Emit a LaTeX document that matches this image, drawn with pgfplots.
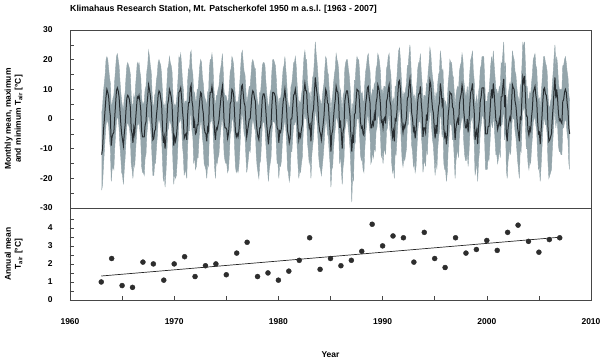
\documentclass[border=0pt]{standalone}
\usepackage{pgfplots}
\pgfplotsset{compat=1.18}
\usepackage{pgfplotstable}
\usepgfplotslibrary{fillbetween}
\usepackage{fontspec}
\setmainfont{Liberation Sans}
\definecolor{band}{RGB}{148,165,171}
\definecolor{meanc}{RGB}{38,44,48}
\definecolor{dotc}{RGB}{45,45,45}
\definecolor{framec}{RGB}{70,70,70}

\pgfplotstableread{
y m hi mu lo
1963 1 2 -12 -24
1963 2 4 -10 -22
1963 3 9 -4 -16
1963 4 12 -0.5 -11
1963 5 15 3.5 -6
1963 6 20 7.5 -2
1963 7 21 10 0
1963 8 20 9 -1
1963 9 17 7.5 -2
1963 10 14 3.5 -7
1963 11 12 1 -10
1963 12 4 -9 -21
1964 1 5 -6 -17
1964 2 7 -5 -16
1964 3 8 -4.5 -17
1964 4 13 0.5 -10
1964 5 17 5 -5
1964 6 21 9.5 -1
1964 7 22 10.5 1
1964 8 20 9.5 0
1964 9 18 7.5 -3
1964 10 13 3 -9
1964 11 9 -1.5 -13
1964 12 6 -5 -18
1965 1 4 -7 -19
1965 2 3 -9 -22
1965 3 7 -5 -17
1965 4 9 -2 -13
1965 5 14 3 -7
1965 6 18 7 -2
1965 7 19 8 -1
1965 8 18 7.5 -2
1965 9 17 6.5 -3
1965 10 15 4 -6
1965 11 8 -3.5 -15
1965 12 5 -5 -17
1966 1 4 -8 -20
1966 2 8 -3 -14
1966 3 6 -5 -16
1966 4 11 -0.5 -11
1966 5 15 3.5 -6
1966 6 19 7.5 -2
1966 7 18 7 -2
1966 8 19 8 -1
1966 9 16 6 -4
1966 10 14 3 -7
1966 11 7 -4 -16
1966 12 5 -6 -18
1967 1 5 -6 -18
1967 2 6 -6 -19
1967 3 10 -2 -13
1967 4 11 -1 -12
1967 5 16 4.5 -5
1967 6 18 7.5 -2
1967 7 23 11.5 2
1967 8 21 10 0
1967 9 18 8 -2
1967 10 16 5 -6
1967 11 9 -2 -13
1967 12 4 -7 -19
1968 1 5 -6.5 -19
1968 2 8 -4 -15
1968 3 9 -3.5 -15
1968 4 13 1 -10
1968 5 15 4 -6
1968 6 19 8 -1
1968 7 20 9.5 0
1968 8 19 9 -1
1968 9 18 7 -3
1968 10 15 5 -6
1968 11 9 -2.5 -14
1968 12 4 -8 -21
1969 1 5 -6 -18
1969 2 2 -10 -23
1969 3 6 -6 -18
1969 4 11 -1 -12
1969 5 17 5 -4
1969 6 18 6.5 -3
1969 7 21 10 0
1969 8 19 9 -1
1969 9 18 7.5 -2
1969 10 16 5 -5
1969 11 9 -2 -14
1969 12 3 -9 -22
1970 1 5 -6 -18
1970 2 4 -7.5 -20
1970 3 6 -6 -19
1970 4 9 -2.5 -14
1970 5 14 3 -7
1970 6 21 9 0
1970 7 20 9.5 -1
1970 8 22 10.5 1
1970 9 18 7.5 -2
1970 10 13 3 -9
1970 11 10 -0.5 -12
1970 12 4 -6.5 -19
1971 1 6 -5.5 -17
1971 2 6 -5 -18
1971 3 5 -7 -20
1971 4 13 1.5 -9
1971 5 17 5.5 -4
1971 6 16 5.5 -4
1971 7 22 10.5 1
1971 8 23 11.5 2
1971 9 17 6 -4
1971 10 15 4 -6
1971 11 8 -3 -15
1971 12 9 -1 -12
1972 1 6 -5 -17
1972 2 6 -4.5 -16
1972 3 10 -2 -13
1972 4 10 -2 -13
1972 5 14 3 -7
1972 6 18 6.5 -3
1972 7 20 9 -1
1972 8 19 8.5 -1
1972 9 14 4 -6
1972 10 12 2 -9
1972 11 8 -3 -15
1972 12 7 -4.5 -16
1973 1 6 -5 -17
1973 2 4 -7.5 -20
1973 3 9 -3 -15
1973 4 8 -4 -16
1973 5 17 5.5 -4
1973 6 20 9 -1
1973 7 20 9 -1
1973 8 22 11 1
1973 9 19 8.5 -2
1973 10 11 1 -10
1973 11 7 -4 -16
1973 12 4 -7 -20
1974 1 8 -3 -14
1974 2 8 -3.5 -15
1974 3 10 -2 -13
1974 4 11 -0.5 -12
1974 5 15 3 -7
1974 6 17 6 -4
1974 7 19 9 -1
1974 8 22 11 1
1974 9 16 6 -4
1974 10 9 -1 -12
1974 11 8 -3 -14
1974 12 8 -3 -15
1975 1 7 -3.5 -15
1975 2 5 -6.5 -18
1975 3 7 -5 -17
1975 4 11 -1 -12
1975 5 16 5 -5
1975 6 17 6 -4
1975 7 21 10 0
1975 8 20 9.5 0
1975 9 18 8 -2
1975 10 12 2 -9
1975 11 7 -4 -16
1975 12 5 -6 -18
1976 1 6 -5 -17
1976 2 5 -6 -18
1976 3 8 -4 -16
1976 4 12 0 -11
1976 5 17 6 -4
1976 6 22 11 1
1976 7 23 11.5 2
1976 8 19 8.5 -1
1976 9 16 5.5 -5
1976 10 15 4.5 -6
1976 11 10 -1 -12
1976 12 5 -6 -18
1977 1 7 -4 -16
1977 2 9 -2 -13
1977 3 11 0 -10
1977 4 11 0 -11
1977 5 15 4 -6
1977 6 19 8 -2
1977 7 20 9.5 0
1977 8 19 9 -1
1977 9 17 7 -3
1977 10 17 6 -4
1977 11 10 -0.5 -12
1977 12 7 -4 -16
1978 1 5 -6 -18
1978 2 4 -7 -20
1978 3 9 -3 -15
1978 4 9 -3 -14
1978 5 13 2 -8
1978 6 18 7 -2
1978 7 19 8.5 -1
1978 8 19 8.5 -1
1978 9 18 7 -3
1978 10 13 3 -8
1978 11 9 -1.5 -13
1978 12 6 -5 -17
1979 1 3 -8.5 -21
1979 2 6 -5 -17
1979 3 9 -3 -15
1979 4 10 -2 -13
1979 5 16 4.5 -5
1979 6 20 9 -1
1979 7 20 9 -1
1979 8 19 8.5 -1
1979 9 18 7.5 -2
1979 10 14 3.5 -8
1979 11 8 -3 -15
1979 12 7 -3.5 -15
1980 1 4 -8 -20
1980 2 7 -4 -15
1980 3 7 -4.5 -16
1980 4 9 -3 -14
1980 5 13 2 -8
1980 6 17 6 -4
1980 7 18 7.5 -2
1980 8 21 10 0
1980 9 17 7 -3
1980 10 13 3 -8
1980 11 7 -4 -17
1980 12 5 -5.5 -18
1981 1 3 -8 -21
1981 2 5 -6.5 -19
1981 3 11 0 -11
1981 4 12 0 -11
1981 5 15 4 -6
1981 6 19 8 -2
1981 7 19 8.5 -2
1981 8 21 10 0
1981 9 18 7.5 -2
1981 10 12 2 -9
1981 11 8 -3 -15
1981 12 4 -7 -20
1982 1 6 -5 -17
1982 2 5 -6 -18
1982 3 8 -3.5 -15
1982 4 10 -2 -13
1982 5 16 4.5 -5
1982 6 21 9.5 0
1982 7 23 12 2
1982 8 20 9.5 0
1982 9 20 9.5 0
1982 10 13 3 -8
1982 11 10 0 -11
1982 12 8 -3 -15
1983 1 9 -2 -13
1983 2 4 -7.5 -20
1983 3 10 -1.5 -12
1983 4 14 2 -9
1983 5 15 3.5 -6
1983 6 20 9 -1
1983 7 26 14 4
1983 8 22 11 1
1983 9 19 8.5 -1
1983 10 15 5 -6
1983 11 9 -1.5 -13
1983 12 7 -4 -16
1984 1 6 -5 -17
1984 2 4 -7 -19
1984 3 7 -4.5 -16
1984 4 10 -2 -13
1984 5 12 1 -9
1984 6 17 6 -4
1984 7 21 10 0
1984 8 20 9 -1
1984 9 16 5.5 -5
1984 10 15 5 -6
1984 11 10 0 -11
1984 12 7 -4 -15
1985 1 1 -11 -23
1985 2 6 -5 -17
1985 3 8 -4 -16
1985 4 12 0.5 -10
1985 5 15 4 -6
1985 6 17 6.5 -3
1985 7 22 11 1
1985 8 20 9.5 0
1985 9 19 9 -1
1985 10 16 5 -5
1985 11 8 -3 -15
1985 12 10 -0.5 -12
1986 1 6 -5 -17
1986 2 2 -10 -22
1986 3 8 -4 -16
1986 4 9 -3 -14
1986 5 17 6 -4
1986 6 19 8 -2
1986 7 20 9.5 0
1986 8 20 9.5 0
1986 9 17 7 -3
1986 10 15 4 -6
1986 11 11 1 -10
1986 12 6 -5.5 -17
1987 1 0 -11 -28
1987 2 5 -6 -18
1987 3 4 -8 -21
1987 4 13 1.5 -9
1987 5 13 2 -8
1987 6 18 6.5 -3
1987 7 21 10 0
1987 8 20 9.5 0
1987 9 20 9.5 0
1987 10 16 5 -5
1987 11 10 -1 -12
1987 12 8 -3 -14
1988 1 9 -2.5 -13
1988 2 6 -5 -17
1988 3 6 -5.5 -18
1988 4 12 0.5 -10
1988 5 16 5 -5
1988 6 18 7.5 -2
1988 7 21 10.5 1
1988 8 22 11 1
1988 9 18 7.5 -2
1988 10 16 5.5 -5
1988 11 8 -3 -15
1988 12 8 -3 -14
1989 1 10 -1 -11
1989 2 9 -2 -13
1989 3 12 1.5 -9
1989 4 11 -0.5 -11
1989 5 17 5.5 -4
1989 6 18 7 -3
1989 7 22 11.5 1
1989 8 21 10.5 1
1989 9 19 8.5 -1
1989 10 16 5 -5
1989 11 9 -1 -13
1989 12 10 -0.5 -11
1990 1 8 -3 -15
1990 2 11 0 -11
1990 3 11 0.5 -10
1990 4 10 -1.5 -12
1990 5 17 6 -4
1990 6 18 7 -3
1990 7 21 10 0
1990 8 22 11.5 2
1990 9 17 6 -4
1990 10 15 4.5 -6
1990 11 8 -3 -15
1990 12 5 -6 -18
1991 1 7 -4 -16
1991 2 4 -7.5 -20
1991 3 11 0 -11
1991 4 11 -0.5 -12
1991 5 14 2.5 -7
1991 6 19 8 -2
1991 7 23 12.5 3
1991 8 24 13 3
1991 9 20 10 0
1991 10 14 3 -8
1991 11 9 -2 -14
1991 12 6 -4.5 -16
1992 1 9 -2 -13
1992 2 8 -3 -14
1992 3 10 -1.5 -12
1992 4 12 0.5 -10
1992 5 18 7 -2
1992 6 18 7.5 -2
1992 7 22 11.5 2
1992 8 25 13.5 4
1992 9 19 8.5 -1
1992 10 12 2 -9
1992 11 10 0 -11
1992 12 7 -4 -16
1993 1 8 -3 -14
1993 2 5 -6.5 -18
1993 3 8 -4 -16
1993 4 12 1 -10
1993 5 17 6 -4
1993 6 19 8.5 -1
1993 7 19 8.5 -1
1993 8 22 11 1
1993 9 16 5.5 -5
1993 10 12 2 -9
1993 11 5 -6 -18
1993 12 8 -3 -15
1994 1 8 -3 -14
1994 2 7 -4.5 -16
1994 3 12 1.5 -9
1994 4 11 -0.5 -12
1994 5 16 5 -5
1994 6 19 8.5 -1
1994 7 24 13 3
1994 8 22 11.5 2
1994 9 17 7 -3
1994 10 14 3.5 -7
1994 11 12 2 -9
1994 12 8 -3 -14
1995 1 5 -6.5 -19
1995 2 9 -2 -13
1995 3 7 -5 -17
1995 4 12 0.5 -10
1995 5 15 4 -6
1995 6 16 5.5 -4
1995 7 23 12 3
1995 8 20 9.5 0
1995 9 15 5 -6
1995 10 17 7 -3
1995 11 8 -3 -15
1995 12 5 -6 -17
1996 1 6 -5 -17
1996 2 3 -8.5 -21
1996 3 6 -5.5 -18
1996 4 12 1 -10
1996 5 15 4 -6
1996 6 20 9 -1
1996 7 19 8.5 -2
1996 8 19 8.5 -2
1996 9 15 4 -7
1996 10 14 3.5 -7
1996 11 9 -1.5 -13
1996 12 4 -7 -20
1997 1 8 -3 -14
1997 2 10 -1 -12
1997 3 11 0 -10
1997 4 10 -2 -13
1997 5 16 5 -5
1997 6 18 7 -3
1997 7 19 8.5 -1
1997 8 22 11.5 1
1997 9 20 9.5 0
1997 10 13 2.5 -8
1997 11 10 -0.5 -12
1997 12 8 -3 -14
1998 1 8 -3 -14
1998 2 11 0 -11
1998 3 7 -4.5 -16
1998 4 11 -0.5 -11
1998 5 16 5 -5
1998 6 20 9 -1
1998 7 21 10 0
1998 8 23 12 2
1998 9 16 6 -4
1998 10 13 2.5 -8
1998 11 4 -7 -19
1998 12 6 -5 -17
1999 1 8 -3.5 -14
1999 2 3 -8.5 -21
1999 3 9 -2.5 -14
1999 4 11 0 -11
1999 5 17 6 -4
1999 6 18 7.5 -2
1999 7 21 10.5 1
1999 8 21 10.5 1
1999 9 21 10.5 0
1999 10 14 3.5 -7
1999 11 6 -5 -17
1999 12 6 -5 -17
2000 1 6 -5 -17
2000 2 9 -2.5 -13
2000 3 9 -2.5 -14
2000 4 13 1.5 -9
2000 5 18 6.5 -3
2000 6 21 10 0
2000 7 18 7 -3
2000 8 23 12 2
2000 9 18 8.5 -2
2000 10 14 4 -7
2000 11 10 -0.5 -12
2000 12 10 -1 -12
2001 1 8 -3.5 -15
2001 2 9 -2 -13
2001 3 11 0 -10
2001 4 10 -2.5 -13
2001 5 19 7.5 -2
2001 6 18 7.5 -2
2001 7 22 11 1
2001 8 26 13.5 4
2001 9 15 4 -7
2001 10 19 8 -1
2001 11 6 -5 -17
2001 12 4 -7.5 -20
2002 1 8 -3 -14
2002 2 10 -1 -12
2002 3 12 0.5 -10
2002 4 11 -0.5 -12
2002 5 16 5 -5
2002 6 23 11.5 2
2002 7 21 10.5 0
2002 8 20 10 0
2002 9 16 6 -4
2002 10 15 4.5 -6
2002 11 11 1 -10
2002 12 8 -3 -14
2003 1 7 -5 -17
2003 2 4 -7.5 -20
2003 3 11 0.5 -10
2003 4 12 0 -11
2003 5 18 7 -3
2003 6 26 14 5
2003 7 24 12.5 3
2003 8 26 14.5 5
2003 9 18 7.5 -2
2003 10 11 1 -10
2003 11 11 1 -10
2003 12 7 -4 -15
2004 1 6 -5.5 -17
2004 2 9 -3 -14
2004 3 8 -4 -15
2004 4 12 0.5 -10
2004 5 15 3.5 -6
2004 6 20 9 -1
2004 7 21 10 0
2004 8 22 11 1
2004 9 18 8 -2
2004 10 17 6 -4
2004 11 10 -0.5 -12
2004 12 6 -5 -17
2005 1 7 -4.5 -16
2005 2 3 -8.5 -21
2005 3 8 -4 -16
2005 4 12 0.5 -10
2005 5 17 6 -4
2005 6 21 10 0
2005 7 21 10.5 0
2005 8 19 8.5 -2
2005 9 18 8 -2
2005 10 16 5.5 -5
2005 11 8 -3 -15
2005 12 4 -7.5 -20
2006 1 4 -7 -19
2006 2 6 -6 -18
2006 3 7 -5 -17
2006 4 12 0.5 -10
2006 5 16 4.5 -5
2006 6 21 10 0
2006 7 25 14 4
2006 8 18 7 -3
2006 9 21 10 0
2006 10 18 7 -2
2006 11 12 2 -9
2006 12 10 -0.5 -11
2007 1 10 0 -11
2007 2 10 -1 -12
2007 3 10 -1.5 -12
2007 4 18 6 -3
2007 5 18 6.5 -3
2007 6 20 9 -1
2007 7 21 10 0
2007 8 19 9 -1
2007 9 16 5.5 -5
2007 10 14 3 -7
2007 11 8 -3 -15
2007 12 6 -5 -17
}\monthly

\pgfplotstableread{
year t
1963 1.0
1964 2.3
1965 0.8
1966 0.7
1967 2.1
1968 2.0
1969 1.1
1970 2.0
1971 2.4
1972 1.3
1973 1.9
1974 2.0
1975 1.4
1976 2.6
1977 3.2
1978 1.3
1979 1.5
1980 1.1
1981 1.6
1982 2.2
1983 3.45
1984 1.7
1985 2.3
1986 1.9
1987 2.2
1988 2.7
1989 4.2
1990 3.0
1991 3.55
1992 3.45
1993 2.1
1994 3.75
1995 2.3
1996 1.8
1997 3.45
1998 2.6
1999 2.8
2000 3.3
2001 2.75
2002 3.75
2003 4.15
2004 3.25
2005 2.65
2006 3.35
2007 3.45
}\annual

\begin{document}
\begin{tikzpicture}
\pgfplotsset{
  base/.style={
    scale only axis, width=521bp,
    xmin=1960, xmax=2010,
    font=\bfseries\fontsize{8.5}{10}\selectfont,
    ticklabel style={font=\bfseries\fontsize{8.5}{10}\selectfont},
    /pgf/number format/assume math mode=true,
    /pgf/number format/1000 sep={},
    axis line style={draw=framec, line width=0.8pt},
    tick style={draw=framec, line width=0.6pt},
    major tick length=4bp, minor tick length=4bp,
    tick align=inside,
    ytick pos=left,
    yticklabel style={xshift=-14bp},
    ylabel style={at={(axis description cs:-0.108,0.5)}, rotate=0, anchor=center, align=center, font=\bfseries\fontsize{8.5}{10}\selectfont},
  }
}
\begin{axis}[base, name=lower, at={(0,0)}, anchor=south west, height=92bp,
  ymin=0, ymax=5.1,
  ytick={0,1,2,3,4}, minor ytick={0.5,1.5,2.5,3.5,4.5},
  xtick={1960,1970,...,2010}, minor xtick={1965,1975,...,2005},
  xtick pos=bottom,
  xticklabel style={yshift=-15bp},
  ylabel={Annual mean\\T\textsubscript{air} [°C]},
  xlabel={Year},
  xlabel style={at={(axis description cs:0.5,0)}, anchor=center, yshift=-55bp},
]
\addplot[only marks, mark=*, mark size=2.5bp, color=dotc] table[x=year, y=t]{\annual};
\addplot[draw=black!85, line width=0.7pt] coordinates {(1963,1.33) (2007,3.48)};
\end{axis}
\begin{axis}[base, name=upper, at={(0,92bp)}, anchor=south west, height=178bp,
  ymin=-30, ymax=30,
  ytick={-30,-20,...,30}, minor ytick={-25,-15,...,25},
  xtick=\empty,
  ylabel={Monthly mean, maximum\\and minimum T\textsubscript{air} [°C]},
]
\addplot[name path=hi, draw=band, line width=0.4pt] table[x expr=\thisrow{y}+(\thisrow{m}-0.5)/12, y=hi]{\monthly};
\addplot[name path=lo, draw=band, line width=0.4pt] table[x expr=\thisrow{y}+(\thisrow{m}-0.5)/12, y=lo]{\monthly};
\addplot[band] fill between[of=hi and lo];
\addplot[draw=meanc, line width=1pt] table[x expr=\thisrow{y}+(\thisrow{m}-0.5)/12, y=mu]{\monthly};
\end{axis}
\node[anchor=west, font=\bfseries\fontsize{8.8}{10}\selectfont, inner sep=0pt] at (0bp,291bp) {Klimahaus Research Station, Mt. Patscherkofel 1950 m a.s.l. [1963 - 2007]};
\pgfresetboundingbox
\path (-70bp,-63bp) rectangle (530bp,300bp);
\end{tikzpicture}
\end{document}
